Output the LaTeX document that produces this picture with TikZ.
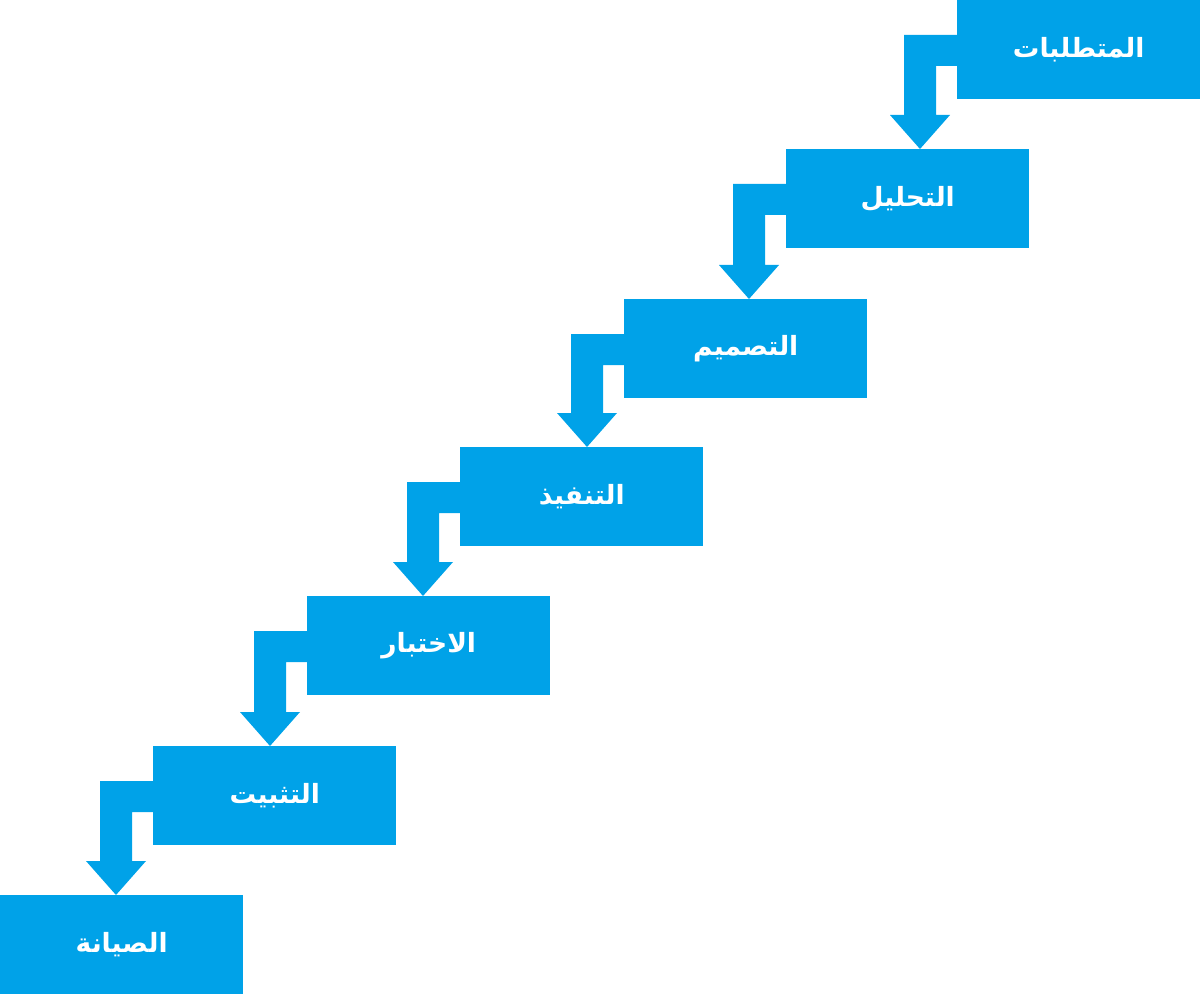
\documentclass[tikz,border=0pt]{standalone}
\usepackage{fontspec}
\newfontfamily\arabicfont[Script=Arabic]{DejaVu Sans}
\TeXXeTstate=1
\usetikzlibrary{calc}
\definecolor{stepblue}{RGB}{0,162,232}
\tikzset{
  stagebox/.style={fill=stepblue, draw=none, inner sep=0pt, anchor=north west,
    minimum width=243pt, minimum height=99pt, text=white,
    font=\arabicfont\bfseries\fontsize{26.5}{30}\selectfont},
  flowfill/.style={fill=stepblue, draw=none}
}
\newcommand\stairarrow[2]{%
  \fill[flowfill] let \p1=(#1.north west), \p2=(#2.north west) in
    (\x1,\y1-35pt) -- (\x1-53pt,\y1-35pt) -- (\x1-53pt,\y2+34pt)
    -- (\x1-67pt,\y2+34pt) -- (\x1-37pt,\y2) -- (\x1-7pt,\y2+34pt)
    -- (\x1-21pt,\y2+34pt) -- (\x1-21pt,\y1-66pt) -- (\x1,\y1-66pt) -- cycle;}
\begin{document}
\begin{tikzpicture}[x=1pt,y=1pt]
\useasboundingbox (0,0) rectangle (1200,-995);
\node[stagebox] (s1) at (957,0) {\beginR المتطلبات\endR};
\node[stagebox] (s2) at (786,-149) {\beginR التحليل\endR};
\node[stagebox] (s3) at (624,-299) {\beginR التصميم\endR};
\node[stagebox] (s4) at (460,-447) {\beginR التنفيذ\endR};
\node[stagebox] (s5) at (307,-596) {\beginR الاختبار\endR};
\node[stagebox] (s6) at (153,-746) {\beginR التثبيت\endR};
\node[stagebox] (s7) at (0,-895) {\beginR الصيانة\endR};
\stairarrow{s1}{s2}
\stairarrow{s2}{s3}
\stairarrow{s3}{s4}
\stairarrow{s4}{s5}
\stairarrow{s5}{s6}
\stairarrow{s6}{s7}
\end{tikzpicture}
\end{document}
